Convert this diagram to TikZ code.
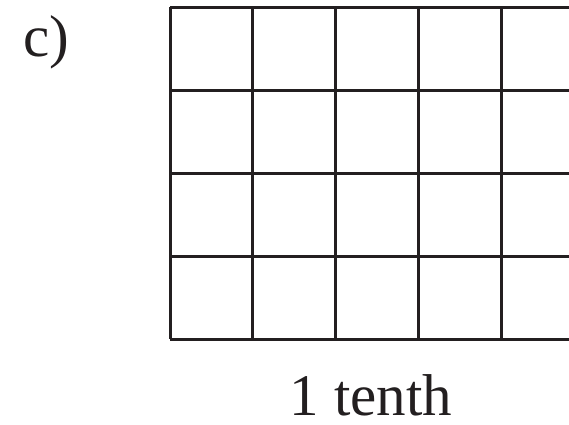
\documentclass[tikz,border=0pt]{standalone}
\usepackage{fontspec}
\setmainfont{Liberation Serif}
\begin{document}
\begin{tikzpicture}[x=1pt,y=-1pt,
  gridline/.style={line width=3pt, draw={rgb,255:red,35;green,31;blue,32}},
  lbl/.style={inner sep=0pt, font=\fontsize{59}{59}\selectfont, text={rgb,255:red,35;green,31;blue,32}}]
\useasboundingbox (0,0) rectangle (569,424);
\begin{scope}
\clip (0,0) rectangle (569,424);
\foreach \y in {7,90,173,256,339} \draw[gridline] (170,\y) -- (575,\y);
\foreach \x in {170,252,335,418,501} \draw[gridline] (\x,7) -- (\x,339);
\end{scope}
\node[lbl, anchor=base west] (c) at (23,56) {c)};
\node[lbl, anchor=base] (t) at (371,415) {1 tenth};
\end{tikzpicture}
\end{document}
